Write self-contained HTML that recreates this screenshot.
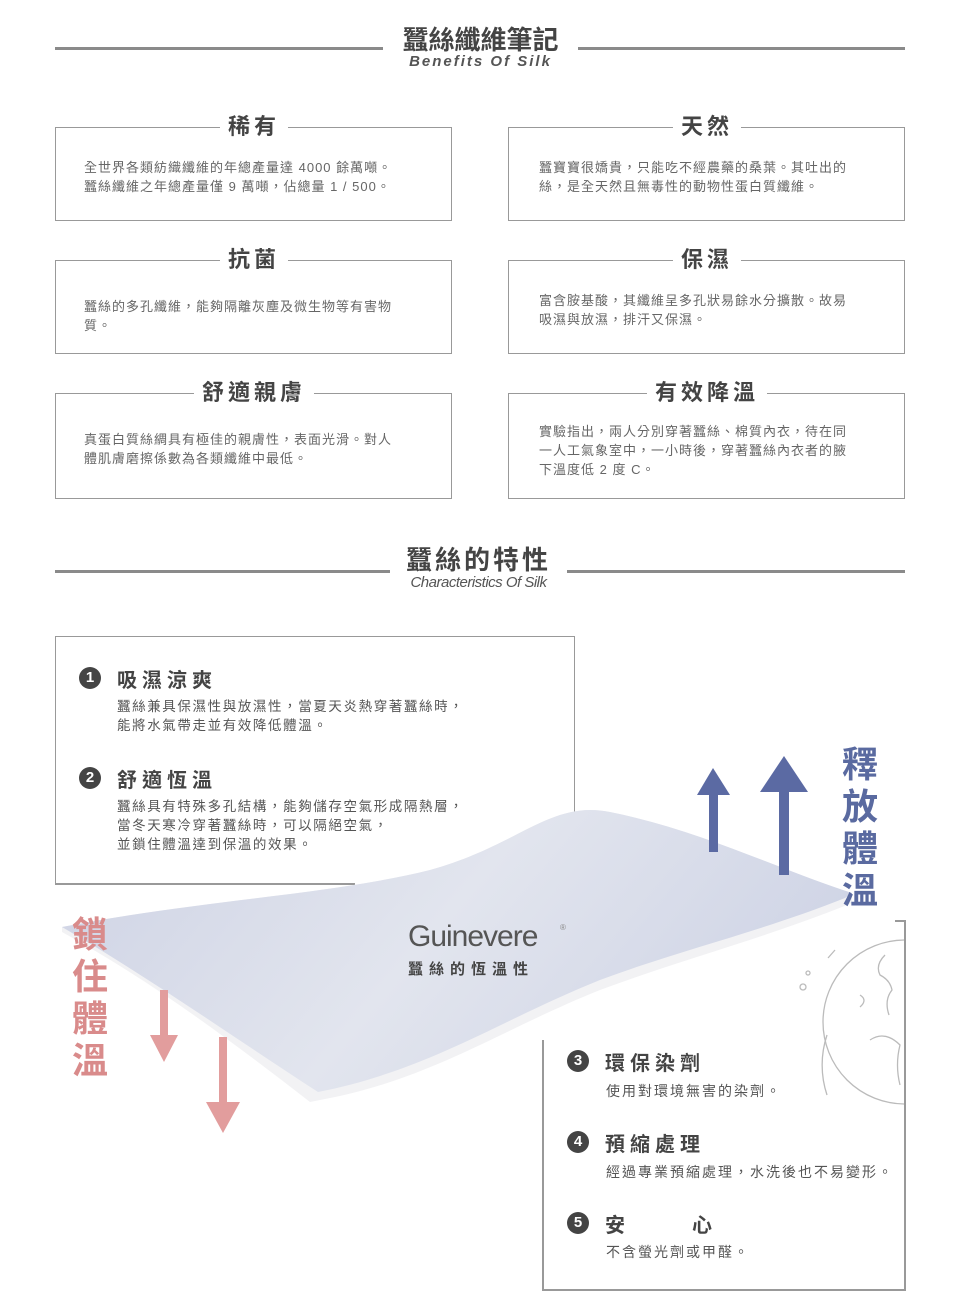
<!DOCTYPE html>
<html><head><meta charset="utf-8"><style>
*{margin:0;padding:0;box-sizing:border-box}
body{width:960px;height:1316px;background:#fff;position:relative;overflow:hidden;font-family:"Liberation Sans","Noto Sans CJK TC",sans-serif;color:#555}
.a{position:absolute}
.hl{position:absolute;height:3px;background:#8a8a8a}
.box{position:absolute;border:1.5px solid #999}
.bt{position:absolute;background:#fff;padding:0 8px;font-weight:bold;font-size:22px;color:#444;letter-spacing:4px;transform:translateX(-50%);top:-16px;line-height:30px}
.tx{position:absolute;font-size:13px;line-height:19px;color:#666;white-space:nowrap;letter-spacing:1px}
.num{position:absolute;width:22px;height:22px;border-radius:50%;background:#444;color:#fff;font-size:15px;font-weight:bold;text-align:center;line-height:22px}
.it{position:absolute;font-size:20px;font-weight:bold;color:#444;letter-spacing:5px;white-space:nowrap}
.vt{position:absolute;font-size:36px;font-weight:bold;line-height:42px;width:40px;text-align:center}
.t2{letter-spacing:1.6px;font-size:13.5px}
</style></head><body>
<div class="hl" style="left:55px;top:47px;width:328px"></div>
<div class="hl" style="left:578px;top:47px;width:327px"></div>
<div class="a" style="left:383px;top:20px;width:195px;text-align:center;font-size:26px;font-weight:bold;color:#444">蠶絲纖維筆記</div>
<div class="a" style="left:383px;top:53px;width:195px;text-align:center;font-size:15px;font-weight:bold;font-style:italic;letter-spacing:2px;color:#555">Benefits Of Silk</div>

<div class="box" style="left:55px;top:127px;width:397px;height:94px"><div class="bt" style="left:198px">稀有</div>
<div class="tx" style="left:28px;top:30px">全世界各類紡織纖維的年總產量達 4000 餘萬噸。<br>蠶絲纖維之年總產量僅 9 萬噸，佔總量 1 / 500。</div></div>
<div class="box" style="left:508px;top:127px;width:397px;height:94px"><div class="bt" style="left:198px">天然</div>
<div class="tx" style="left:30px;top:30px">蠶寶寶很嬌貴，只能吃不經農藥的桑葉。其吐出的<br>絲，是全天然且無毒性的動物性蛋白質纖維。</div></div>

<div class="box" style="left:55px;top:260px;width:397px;height:94px"><div class="bt" style="left:198px">抗菌</div>
<div class="tx" style="left:28px;top:36px">蠶絲的多孔纖維，能夠隔離灰塵及微生物等有害物<br>質。</div></div>
<div class="box" style="left:508px;top:260px;width:397px;height:94px"><div class="bt" style="left:198px">保濕</div>
<div class="tx" style="left:30px;top:30px">富含胺基酸，其纖維呈多孔狀易餘水分擴散。故易<br>吸濕與放濕，排汗又保濕。</div></div>

<div class="box" style="left:55px;top:393px;width:397px;height:106px"><div class="bt" style="left:198px">舒適親膚</div>
<div class="tx" style="left:28px;top:36px">真蛋白質絲綢具有極佳的親膚性，表面光滑。對人<br>體肌膚磨擦係數為各類纖維中最低。</div></div>
<div class="box" style="left:508px;top:393px;width:397px;height:106px"><div class="bt" style="left:198px">有效降溫</div>
<div class="tx" style="left:30px;top:28px">實驗指出，兩人分別穿著蠶絲、棉質內衣，待在同<br>一人工氣象室中，一小時後，穿著蠶絲內衣者的腋<br>下溫度低 2 度 C。</div></div>

<div class="hl" style="left:55px;top:570px;width:335px"></div>
<div class="hl" style="left:567px;top:570px;width:338px"></div>
<div class="a" style="left:390px;top:540px;width:177px;text-align:center;font-size:26px;font-weight:bold;color:#444;letter-spacing:3px">蠶絲的特性</div>
<div class="a" style="left:390px;top:574px;width:177px;text-align:center;font-size:15px;font-style:italic;color:#555;letter-spacing:-0.5px">Characteristics Of Silk</div>

<div class="a" style="left:55px;top:636px;width:520px;height:248px;border:1.5px solid #999;border-bottom:none"></div>
<div class="a" style="left:55px;top:883px;width:300px;height:2px;background:#999"></div>
<div class="num" style="left:79px;top:667px">1</div><div class="it" style="left:117px;top:664px">吸濕涼爽</div>
<div class="tx t2" style="left:117px;top:697px;color:#555">蠶絲兼具保濕性與放濕性，當夏天炎熱穿著蠶絲時，<br>能將水氣帶走並有效降低體溫。</div>
<div class="num" style="left:79px;top:767px">2</div><div class="it" style="left:117px;top:764px">舒適恆溫</div>
<div class="tx t2" style="left:117px;top:797px;color:#555">蠶絲具有特殊多孔結構，能夠儲存空氣形成隔熱層，<br>當冬天寒冷穿著蠶絲時，可以隔絕空氣，<br>並鎖住體溫達到保溫的效果。</div>

<!-- box 3 -->
<div class="a" style="left:542px;top:1040px;width:2px;height:251px;background:#999"></div>
<div class="a" style="left:542px;top:1289px;width:364px;height:2px;background:#999"></div>
<div class="a" style="left:904px;top:920px;width:2px;height:371px;background:#999"></div>
<div class="a" style="left:895px;top:920px;width:11px;height:2px;background:#999"></div>

<svg class="a" style="left:0;top:0" width="960" height="1316">
<defs><clipPath id="c"><rect x="700" y="900" width="204" height="300"/></clipPath>
<linearGradient id="g" x1="0" y1="0" x2="1" y2="0.3"><stop offset="0" stop-color="#cdd2e4"/><stop offset="0.55" stop-color="#e2e5ee"/><stop offset="1" stop-color="#d0d5e6"/></linearGradient></defs>
<g fill="none" stroke="#bbb" stroke-width="1.3" clip-path="url(#c)">
<circle cx="905" cy="1022" r="82"/>
<path d="M827 1035 A95 95 0 0 0 827 1095"/>
<path d="M828 958 L835 950"/>
<circle cx="803" cy="987" r="3"/><circle cx="808" cy="973" r="2"/>
<path d="M885 955 q-10 10 -5 20 q10 5 12 15 q-8 10 -3 25 M870 1040 q15 -10 30 5 q-5 20 0 40 M860 995 q8 5 0 12"/>
</g>
<path d="M62 927 C200 900 330 895 430 870 C520 845 550 800 610 812 C700 830 780 870 852 893 L852 903 C760 940 680 960 600 990 C500 1030 430 1080 320 1100 L310 1102 C230 1040 150 980 62 932 Z" fill="#f2f2f4"/>
<path d="M62 927 C200 900 330 895 430 870 C520 845 550 800 610 812 C700 830 780 870 852 893 L845 898 C760 932 680 950 600 980 C500 1020 430 1070 318 1092 C230 1035 150 978 62 927 Z" fill="url(#g)"/>
<g fill="#5b6aa3"><rect x="709" y="792" width="9" height="60"/><polygon points="697,795 713,768 730,795"/>
<rect x="779" y="790" width="10" height="85"/><polygon points="760,792 784,756 808,792"/></g>
<g fill="#e29d9d"><rect x="160" y="990" width="8" height="50"/><polygon points="150,1035 164,1062 178,1035"/>
<rect x="219" y="1037" width="8" height="70"/><polygon points="206,1102 223,1133 240,1102"/></g>
<text x="560" y="930" font-size="8" fill="#888" font-family="Liberation Sans">®</text>
</svg>
<div class="a" style="left:408px;top:920px;font-size:30px;color:#555;letter-spacing:-1px;font-family:'Liberation Sans',sans-serif">Guinevere</div>
<div class="a" style="left:408px;top:958px;font-size:15px;font-weight:bold;color:#444;letter-spacing:6px">蠶絲的恆溫性</div>

<div class="vt" style="left:70px;top:914px;color:#d98b8b">鎖<br>住<br>體<br>溫</div>
<div class="vt" style="left:840px;top:744px;color:#5a6aa0">釋<br>放<br>體<br>溫</div>

<div class="num" style="left:567px;top:1050px">3</div><div class="it" style="left:605px;top:1047px">環保染劑</div>
<div class="tx" style="left:606px;top:1082px;color:#555;font-size:14px;letter-spacing:2px">使用對環境無害的染劑。</div>
<div class="num" style="left:567px;top:1131px">4</div><div class="it" style="left:605px;top:1128px">預縮處理</div>
<div class="tx" style="left:606px;top:1163px;color:#555;font-size:14px;letter-spacing:2px">經過專業預縮處理，水洗後也不易變形。</div>
<div class="num" style="left:567px;top:1212px">5</div><div class="it" style="left:605px;top:1209px">安<span style="display:inline-block;width:62px"></span>心</div>
<div class="tx" style="left:606px;top:1243px;color:#555;font-size:14px;letter-spacing:2px">不含螢光劑或甲醛。</div>
</body></html>
